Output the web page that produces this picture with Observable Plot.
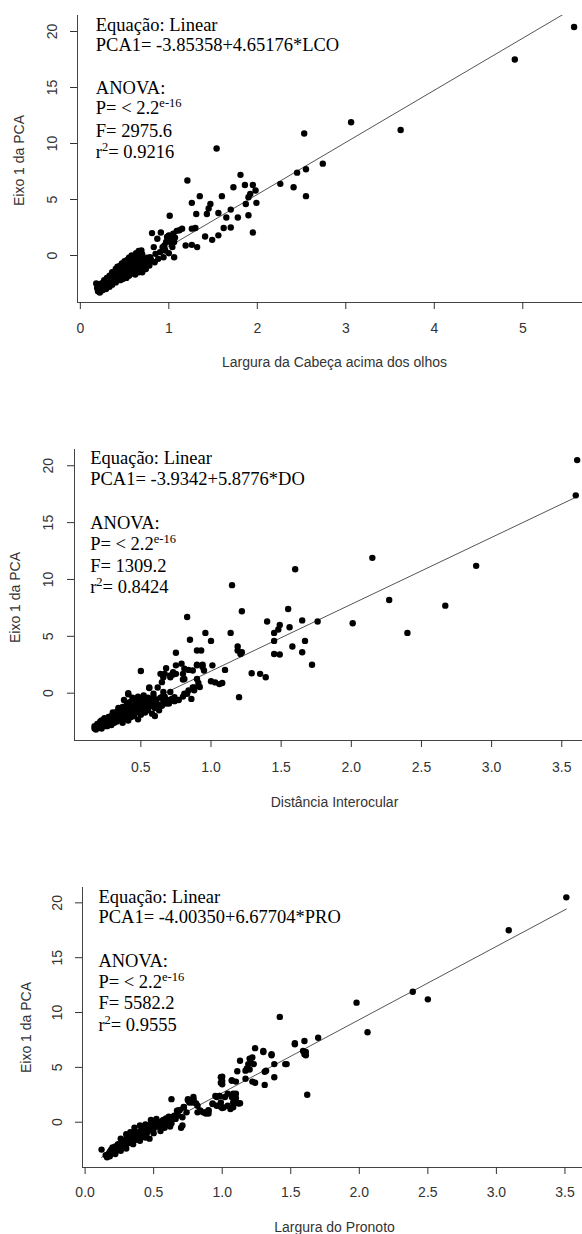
<!DOCTYPE html>
<html><head><meta charset="utf-8">
<script src="https://cdn.jsdelivr.net/npm/d3@7"></script>
<script src="https://cdn.jsdelivr.net/npm/@observablehq/plot@0.6"></script>
<style>
html,body{margin:0;padding:0;background:#fff;}
#chart{position:relative;width:582px;height:1234px;overflow:hidden;background:#fff;}
#chart svg{position:absolute;left:0;}
</style></head><body><div id="chart"></div>
<script>
// ---------- DATA ----------
const yTicks = [0, 5, 10, 15, 20];
const xTicksLCO = [0, 1, 2, 3, 4, 5];
const xTicksDO = [0.5, 1.0, 1.5, 2.0, 2.5, 3.0, 3.5];
const xTicksPRO = [0.0, 0.5, 1.0, 1.5, 2.0, 2.5, 3.0, 3.5];

const yLabel = "Eixo 1 da PCA";
const xLabels = ["Largura da Cabeça acima dos olhos", "Distância Interocular", "Largura do Pronoto"];
const variaveis = ["LCO", "DO", "PRO"];
const intercepts = [-3.85358, -3.9342, -4.00350];
const slopes = [4.65176, 5.8776, 6.67704];
const interceptText = ["-3.85358", "-3.9342", "-4.00350"];
const slopeText = ["4.65176", "5.8776", "6.67704"];
const fValues = ["2975.6", "1309.2", "5582.2"];
const r2Values = ["0.9216", "0.8424", "0.9555"];

// PCA1 vs LCO [x, y]
const pontosLCO = [
[5.58,20.4],[4.91,17.5],[3.06,11.9],[3.62,11.2],[2.53,10.9],[1.54,9.55],[2.74,8.2],[2.55,7.7],[2.45,7.4],[2.55,5.3],[2.26,6.4],[2.41,6.1],
[1.81,7.2],[1.21,6.7],[1.73,6.1],[1.86,6.3],[1.95,6.3],[1.98,5.8],[1.92,5.5],[1.90,5.2],[1.99,4.7],[1.87,4.6],[1.60,5.3],[1.35,5.3],[1.26,4.7],[1.47,4.6],[1.45,4.2],[1.43,3.7],[1.31,3.7],[1.56,3.8],[1.65,3.4],[1.70,4.1],[1.78,3.4],[1.90,3.6],[1.01,3.55],[1.62,2.45],[1.70,2.5],[1.95,2.05],[1.56,1.8],[1.49,1.4],[1.41,1.7],[1.26,2.4],[1.30,2.45],[1.15,2.4],[1.09,2.2],[1.05,1.95],[1.19,0.9],[1.26,0.95],[1.32,0.75],[0.81,2.0],[0.91,2.05],[0.87,1.5],[0.83,0.75],[0.98,1.65],[1.02,1.35],[1.04,0.75],[0.96,0.45],[1.06,-0.15],[0.94,-0.15],[0.79,-0.15],[0.74,-0.45],
[0.85,0.15],[0.93,0.74],[0.99,1.5],[1.03,1.05],[1.12,2.25],[1.00,1.8],[0.97,1.2],[0.90,0.3],[0.95,0.9],[1.00,0.2],[1.07,1.6],[0.88,-0.3],[0.84,-0.6],[1.00,1.75],[1.03,1.6],[1.06,1.2],[1.04,1.45],
[0.18,-2.5],[0.19,-2.9],[0.20,-3.2],[0.20,-2.6],[0.21,-3.0],[0.21,-2.7],[0.22,-3.3],[0.22,-2.8],[0.23,-3.1],[0.23,-2.6],[0.24,-2.9],[0.24,-2.5],[0.25,-3.1],[0.25,-2.7],[0.26,-2.8],[0.26,-2.4],[0.27,-2.9],[0.27,-2.6],[0.28,-2.7],[0.28,-2.3],[0.29,-2.6],[0.30,-2.8],[0.30,-2.3],[0.31,-2.5],[0.31,-2.1],[0.32,-2.6],[0.32,-2.2],[0.33,-2.4],[0.34,-2.1],[0.34,-2.5],[0.35,-2.3],[0.35,-1.9],[0.36,-2.2],[0.37,-2.4],[0.37,-1.8],[0.38,-2.0],[0.39,-2.2],[0.39,-1.7],[0.40,-1.9],[0.41,-2.1],[0.41,-1.5],[0.42,-1.8],[0.43,-1.6],[0.43,-2.0],[0.44,-1.3],[0.45,-1.7],[0.45,-1.9],[0.46,-1.4],[0.47,-1.6],[0.48,-1.2],[0.48,-1.8],[0.49,-1.4],[0.50,-1.0],[0.50,-1.6],[0.51,-1.3],[0.52,-1.7],[0.52,-0.9],[0.53,-1.2],[0.54,-1.5],[0.55,-0.8],[0.55,-1.1],[0.56,-1.4],[0.57,-0.6],[0.57,-1.0],[0.58,-1.2],[0.59,-0.3],[0.59,-0.8],[0.60,-1.0],[0.61,-1.4],[0.61,-0.5],[0.62,-0.2],[0.63,-0.9],[0.64,-1.2],[0.65,-0.5],[0.66,-0.1],[0.67,-0.8],[0.68,-1.1],[0.69,-0.4],[0.70,0.1],[0.71,-0.7],[0.72,-1.0],[0.73,-0.3],[0.75,-0.6],[0.76,-0.2],[0.78,-0.5],[0.80,-0.4],[0.70,-1.3],[0.62,-1.5],[0.66,-1.3],
[0.40,-1.2],[0.42,-1.0],[0.45,-0.9],[0.47,-0.7],[0.50,-0.5],[0.53,-0.4],[0.55,-0.2],[0.58,0.0],[0.60,-0.1],[0.63,0.2],[0.66,0.4],[0.69,0.45],[0.36,-1.5],[0.33,-1.8],[0.30,-2.0],[0.27,-2.2],
[0.45,-2.2],[0.48,-2.1],[0.52,-2.0],[0.55,-1.8],[0.58,-1.6],[0.62,-1.7],[0.66,-1.5],[0.40,-2.4],[0.36,-2.6],[0.33,-2.8],[0.29,-3.0],[0.70,-1.5],[0.74,-1.2],[0.78,-0.9]
];

// PCA1 vs DO
const pontosDO = [
[3.61,20.5],[3.60,17.4],[2.89,11.2],[2.15,11.9],[1.60,10.9],[1.15,9.5],[2.27,8.2],[2.67,7.7],[2.40,5.3],[2.01,6.15],[1.76,6.3],[1.65,6.4],[1.55,7.4],[1.56,5.8],[1.49,6.0],[1.48,5.6],[1.45,5.3],[1.45,4.6],[1.67,4.6],[1.58,4.1],[1.65,3.6],[1.45,3.45],[1.49,3.4],[1.72,2.5],[1.40,6.3],[1.22,7.2],[1.14,5.3],[0.83,6.7],[0.85,4.7],[0.96,5.3],[1.00,4.6],[1.19,4.1],[1.19,3.75],[1.21,3.45],[1.22,3.6],[0.90,3.75],[0.93,3.75],[0.75,3.55],[0.94,2.5],[1.01,2.45],[0.90,2.5],[1.10,2.05],[1.29,1.75],[1.35,1.7],[1.39,1.4],[1.20,-0.35],
[0.50,1.95],[0.65,0.97],[0.66,0.1],[0.67,1.7],[0.71,1.4],[0.73,1.85],[0.79,2.6],[0.80,1.7],[0.68,2.2],[0.75,2.45],[0.64,1.7],[0.66,1.4],[0.71,1.55],[0.75,1.7],[0.81,2.15],[0.84,2.05],[0.87,2.0],[0.81,1.25],[0.90,2.45],[0.94,2.3],[0.95,2.0],[0.90,1.25],[0.91,0.9],[0.88,0.5],[0.84,0.25],[0.81,-0.05],[1.00,1.05],[1.03,0.95],[1.06,0.8],[1.08,0.9],[0.71,0.1],[0.62,0.5],[0.59,-0.05],[0.65,-0.35],[0.74,-0.35],[0.56,0.45],[0.41,0.0],[0.88,0.25],[0.92,0.55],[0.80,1.2],[0.73,1.65],
[0.17,-3.1],[0.17,-2.9],[0.18,-3.2],[0.19,-2.7],[0.20,-3.0],[0.20,-2.8],[0.21,-2.5],[0.22,-3.1],[0.22,-2.4],[0.23,-2.7],[0.24,-2.9],[0.24,-2.2],[0.25,-2.6],[0.26,-2.3],[0.26,-2.9],[0.27,-2.1],[0.28,-2.6],[0.28,-2.4],[0.29,-2.0],[0.29,-2.8],[0.30,-1.7],[0.30,-2.3],[0.31,-2.6],[0.31,-1.9],[0.32,-2.2],[0.33,-1.6],[0.33,-2.5],[0.34,-2.0],[0.34,-1.3],[0.35,-2.3],[0.35,-1.8],[0.36,-1.5],[0.36,-2.1],[0.37,-1.2],[0.37,-2.6],[0.38,-1.8],[0.38,-0.6],[0.39,-2.2],[0.39,-1.4],[0.40,-1.0],[0.40,-1.9],[0.41,-0.1],[0.41,-2.4],[0.42,-1.6],[0.42,-0.8],[0.43,-1.2],[0.43,-2.1],[0.44,-0.4],[0.44,-1.8],[0.45,-1.4],[0.45,-2.0],[0.46,-1.0],[0.46,-0.6],[0.47,-1.7],[0.47,-1.2],[0.48,-2.3],[0.48,-0.3],[0.49,-1.5],[0.49,-0.8],[0.50,-1.1],[0.50,-1.9],[0.51,-0.5],[0.51,-1.4],[0.52,-1.2],[0.52,-0.2],[0.53,-1.7],[0.53,-0.8],[0.54,-1.0],[0.55,-0.4],[0.55,-1.5],[0.56,0.5],[0.56,-1.2],[0.57,-0.7],[0.58,-0.9],[0.58,-1.8],[0.59,-0.3],[0.60,-1.3],[0.60,-2.0],[0.61,-0.6],[0.62,-1.0],[0.63,-1.5],[0.64,-0.4],[0.65,-1.1],[0.66,-0.8],[0.67,-0.3],[0.68,-0.9],[0.69,-0.6],[0.70,-0.9],[0.72,-0.5],[0.74,-0.7],[0.77,-0.6],[0.80,-0.3],[0.83,-0.05],[0.86,-0.5],[0.87,0.5]
];

// PCA1 vs PRO
const pontosPRO = [
[3.51,20.5],[3.09,17.5],[2.39,11.9],[2.50,11.2],[1.98,10.9],[2.06,8.2],[1.42,9.6],[1.70,7.7],[1.60,7.4],[1.53,7.2],[1.59,6.5],[1.60,6.2],[1.61,6.1],[1.46,5.3],[1.38,5.3],[1.38,4.1],[1.36,6.2],[1.30,6.4],[1.24,6.75],[1.22,5.9],[1.19,5.3],[1.23,5.3],[1.13,5.6],[1.17,4.7],[1.11,4.65],[1.20,4.8],[1.31,4.6],[1.31,3.4],[1.24,3.6],[1.22,3.7],[1.07,3.8],[1.10,3.7],[1.00,4.15],[1.00,3.75],[1.00,3.45],[1.62,2.5],[1.10,2.6],[1.10,2.2],[1.12,1.7],[1.08,1.8],[1.02,2.3],[0.99,1.4],[0.95,2.4],[0.98,2.4],[0.93,1.65],[0.86,0.9],[0.90,0.8],[0.82,0.9],[0.78,1.8],[0.75,2.1],[0.79,2.0],[0.63,2.1],[0.72,1.4],[0.74,0.9],[0.69,1.1],[0.71,-0.3],[0.65,0.45],
[1.30,6.5],[1.36,6.1],[1.20,5.8],[1.21,5.4],[1.18,4.9],[1.17,3.96],[1.32,4.7],[1.47,5.3],[1.53,7.1],[1.61,6.4],[0.96,2.3],[0.99,1.8],[1.04,2.6],[1.07,2.3],[1.10,1.8],[1.08,1.37],[1.13,1.73],[1.04,1.5],[1.00,1.3],[0.93,1.7],[0.84,1.07],[0.88,0.8],[0.90,1.1],[0.82,1.5],[0.79,2.1],[0.76,1.8],[0.72,1.37],[0.68,1.07],[0.71,0.45],[0.65,0.6],[0.60,0.3],
[0.12,-2.5],[0.15,-3.0],[0.16,-3.2],[0.17,-2.9],[0.18,-2.7],[0.18,-3.1],[0.19,-2.5],[0.20,-2.3],[0.20,-2.8],[0.21,-2.6],[0.22,-2.9],[0.22,-2.2],[0.23,-2.6],[0.24,-2.4],[0.24,-2.0],[0.25,-2.3],[0.26,-2.6],[0.26,-2.1],[0.27,-1.9],[0.28,-2.3],[0.28,-2.0],[0.29,-1.8],[0.29,-2.1],[0.30,-1.5],[0.30,-2.0],[0.31,-1.7],[0.32,-1.9],[0.32,-1.3],[0.33,-1.6],[0.34,-1.8],[0.34,-1.2],[0.35,-1.5],[0.36,-0.8],[0.36,-1.3],[0.37,-1.6],[0.37,-1.1],[0.38,-1.4],[0.39,-0.9],[0.39,-1.2],[0.40,-1.0],[0.40,-1.5],[0.41,-0.7],[0.41,-1.2],[0.42,-0.9],[0.43,-1.1],[0.43,-0.5],[0.44,-0.8],[0.44,-0.6],[0.45,-1.0],[0.46,-0.4],[0.46,-0.8],[0.47,-0.6],[0.47,-1.5],[0.48,-0.2],[0.48,-0.5],[0.49,-0.7],[0.50,-0.3],[0.50,-0.6],[0.51,-0.1],[0.52,-0.4],[0.53,0.0],[0.53,-0.3],[0.54,-0.1],[0.55,-0.5],[0.56,0.1],[0.56,-0.3],[0.57,0.2],[0.58,0.0],[0.59,0.35],[0.60,-0.1],[0.61,0.5],[0.62,0.2],[0.63,-0.1],[0.64,0.45],[0.66,0.3],[0.67,1.05],[0.68,0.6],[0.70,-0.5],[0.72,1.35],[0.75,2.0],[0.79,2.3],[0.81,1.7],[0.87,0.9],[0.90,1.05],[0.96,1.5],[0.99,4.1],[0.99,3.6],[0.98,2.4],[1.07,3.8],[1.08,2.6],[1.01,1.35],[1.06,1.2],
[0.30,-1.1],[0.33,-0.9],[0.36,-0.5],[0.40,-0.3],[0.44,-0.2],[0.48,0.2],[0.52,0.3],[0.26,-1.5],[0.40,-1.7],[0.44,-1.4],[0.50,-1.0],[0.55,-0.8],[0.35,-2.0],[0.30,-2.4],[0.58,-0.5],[0.62,-0.4]
];

// ---------- LAYOUT ----------
const panels = [
  {pts: pontosLCO, xTicks: xTicksLCO, fmt: d3.format("d"), top: 0, height: 380, mL: 77, mT: 15, mB: 78,
   xDom: [-0.032, 5.675], yDom: [-4.196, 21.43], yPad: 18, xPad: 19, xlDx: 4.5, xlDy: 60, ylDx: -58.4, ylDy: 1.5,
   annX: 95.8, base: [31, 51, 94, 114, 137, 158]},
  {pts: pontosDO, xTicks: xTicksDO, fmt: d3.format(".1f"), top: 400, height: 420, mL: 74, mT: 49, mB: 80,
   xDom: [0.027, 3.648], yDom: [-4.16, 21.43], yPad: 19, xPad: 20, xlDx: 6, xlDy: 62, ylDx: -59, ylDy: 2.5,
   annX: 90.2, base: [64, 85, 129, 150, 172, 193]},
  {pts: pontosPRO, xTicks: xTicksPRO, fmt: d3.format(".1f"), top: 830, height: 404, mL: 82, mT: 57, mB: 67,
   xDom: [-0.019, 3.628], yDom: [-4.13, 21.4], yPad: 17.5, xPad: 18, xlDx: 2, xlDy: 60, ylDx: -56, ylDy: 0,
   annX: 98.4, base: [73, 93, 137, 158, 179, 201]}
];

const chart = document.getElementById("chart");
const serif = "'Liberation Serif', 'Times New Roman', serif";

panels.forEach((p, i) => {
  const a = intercepts[i], b = slopes[i];
  const xr = d3.extent(p.pts, d => d[0]);
  const fit = xr.map(x => [x, a + b * x]);
  const svg = Plot.plot({
    width: 582, height: p.height,
    marginLeft: p.mL, marginRight: 0, marginTop: p.mT, marginBottom: p.mB,
    style: {fontFamily: "'Liberation Sans', Arial, sans-serif", fontSize: "14px", color: "#333", background: "white", overflow: "visible"},
    x: {domain: p.xDom},
    y: {domain: p.yDom},
    marks: [
      Plot.ruleX([p.xDom[0]], {stroke: "#444", strokeWidth: 1}),
      Plot.ruleY([p.yDom[0]], {stroke: "#444", strokeWidth: 1}),
      Plot.axisX(p.xTicks, {tickSize: 7, tickPadding: p.xPad, lineAnchor: "middle", tickFormat: p.fmt, fontSize: 14, label: null}),
      Plot.axisY(yTicks, {tickSize: 7, tickPadding: p.yPad, tickRotate: -90, textAnchor: "middle", lineAnchor: "middle", fontSize: 14, label: null}),
      Plot.line(fit, {x: d => d[0], y: d => d[1], stroke: "#555", strokeWidth: 1, clip: true}),
      Plot.dot(p.pts, {x: d => d[0], y: d => d[1], r: 3.2, fill: "#000", stroke: "none", clip: true}),
      Plot.text([xLabels[i]], {text: d => d, frameAnchor: "bottom", dx: p.xlDx, dy: p.xlDy, lineAnchor: "middle", fontSize: 14, fill: "#333"}),
      Plot.text([yLabel], {text: d => d, frameAnchor: "left", dx: p.ylDx, dy: p.ylDy, rotate: -90, textAnchor: "middle", lineAnchor: "middle", fontSize: 14, fill: "#333"})
    ]
  });
  svg.style.top = p.top + "px";
  chart.appendChild(svg);

  // annotation block (equation & ANOVA)
  const g = d3.select(svg).append("g")
    .attr("font-family", serif).attr("font-size", 18.5).attr("fill", "#000")
    .attr("text-anchor", "start").style("text-anchor", "start");
  const line = (k) => g.append("text").attr("x", p.annX).attr("y", p.base[k]).attr("text-anchor", "start");
  line(0).text("Equação: Linear");
  line(1).text(`PCA1= ${interceptText[i]}+${slopeText[i]}*${variaveis[i]}`);
  line(2).text("ANOVA:");
  const tp = line(3);
  tp.append("tspan").text("P= < 2.2");
  tp.append("tspan").attr("dy", -7).attr("font-size", 12.5).text("e-16");
  line(4).text(`F= ${fValues[i]}`);
  const tr = line(5);
  tr.append("tspan").text("r");
  tr.append("tspan").attr("dy", -7).attr("font-size", 12.5).text("2");
  tr.append("tspan").attr("dy", 7).text(`= ${r2Values[i]}`);
});
</script></body></html>
